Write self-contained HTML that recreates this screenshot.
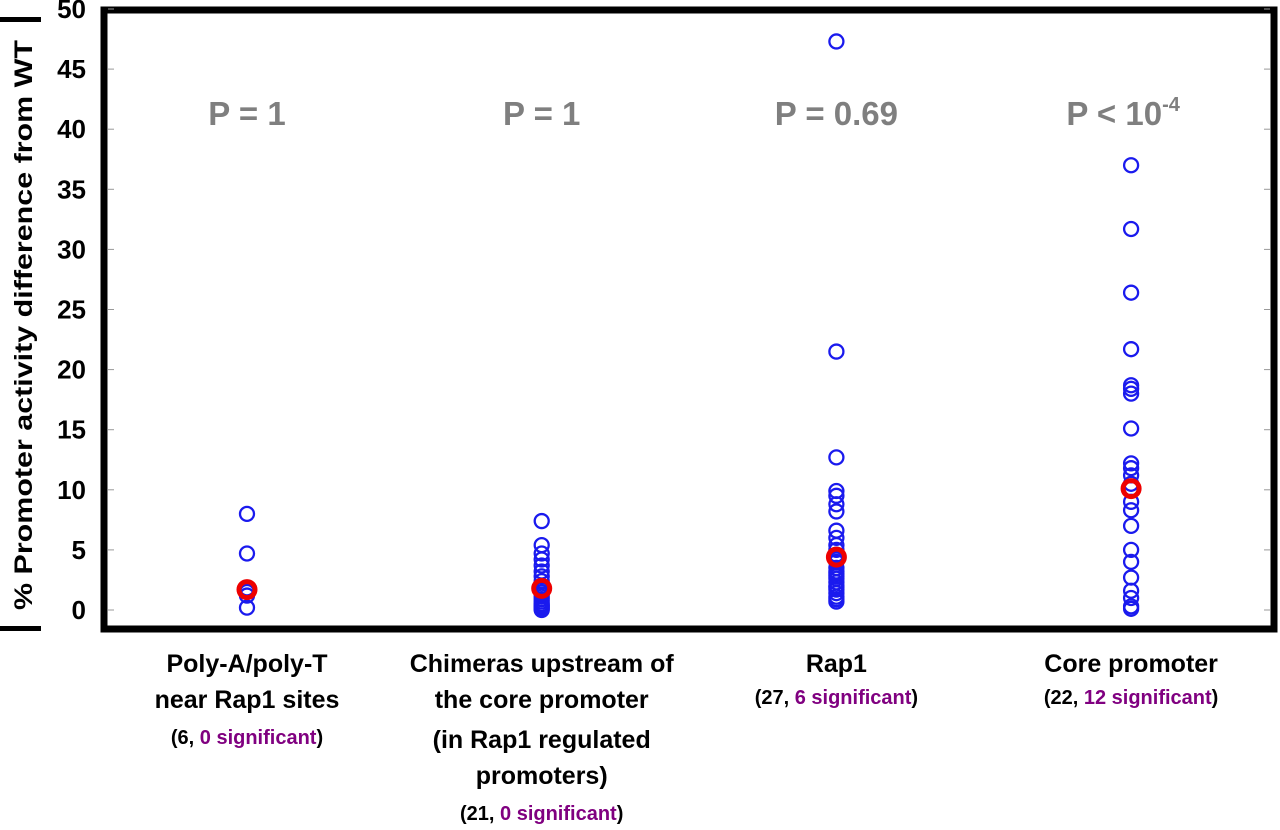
<!DOCTYPE html>
<html><head><meta charset="utf-8"><style>
html,body{margin:0;padding:0;background:#fff;}
svg{display:block;font-family:"Liberation Sans",sans-serif;font-weight:bold;}
</style></head><body>
<svg id="chart" width="1280" height="830">
<g id="ylabel">
<text transform="translate(32,325) rotate(-90)" text-anchor="middle" font-size="25" textLength="570" lengthAdjust="spacingAndGlyphs">% Promoter activity difference from WT</text>
<rect x="0" y="17" width="41" height="5" fill="#000"/>
<rect x="0" y="626" width="41" height="5" fill="#000"/>
</g>
<g id="axes"></g>
<g id="marks"></g>
<g id="labels"></g>
</svg>
<script>
const categories=["Poly-A/poly-T near Rap1 sites","Chimeras upstream","Rap1","Core promoter"];
const polyA=[8.0,4.7,1.8,1.5,1.2,0.2];
const chimeras=[7.4,5.4,4.7,4.2,3.7,3.2,2.8,2.4,2.0,1.7,1.5,1.3,1.1,0.9,0.7,0.5,0.4,0.3,0.2,0.1,0.0];
const rap1=[47.3,21.5,12.7,9.9,9.5,8.8,8.2,6.6,6.0,5.4,5.0,4.6,4.2,4.0,3.5,3.2,3.0,2.8,2.6,2.3,2.0,1.9,1.7,1.4,1.1,0.9,0.7];
const core=[37.0,31.7,26.4,21.7,18.7,18.4,18.0,15.1,12.2,11.8,11.2,10.5,9.0,8.3,7.0,5.0,4.0,2.7,1.6,1.0,0.3,0.1];
const means=[1.7,1.8,4.4,10.1];
const pLabels=["P = 1","P = 1","P = 0.69","P < 10"];
const yTicks=[0,5,10,15,20,25,30,35,40,45,50];
const series=[polyA,chimeras,rap1,core];
const NS="http://www.w3.org/2000/svg";
const y=v=>610-12.02*v;
const x=i=>247+i*294.7;
function mk(tag,attrs,parent){const e=document.createElementNS(NS,tag);for(const k in attrs)e.setAttribute(k,attrs[k]);parent.appendChild(e);return e;}
const axes=document.getElementById('axes'),marks=document.getElementById('marks'),labels=document.getElementById('labels');
const frame=mk('rect',{x:104,y:10,width:1170,height:619,fill:'none',stroke:'#000','stroke-width':7},axes);


yTicks.forEach(t=>{
 const tk=mk('line',{x1:108,x2:114,y1:y(t),y2:y(t),stroke:'#999','stroke-width':1},axes);
 
 
 const rt=mk('line',{x1:1264,x2:1270,y1:y(t),y2:y(t),stroke:'#999','stroke-width':1},axes);
 
 
 const tl=mk('text',{x:86,y:y(t)+9,'text-anchor':'end','font-size':26},axes);
 tl.textContent=t;
 
 
});
series.forEach((s,i)=>{
 s.forEach(v=>{
  const c=mk('circle',{cx:x(i),cy:y(v),r:7,fill:'none',stroke:'#1a1aee','stroke-width':2.3},marks);
  
  
 });
 const m=mk('circle',{cx:x(i),cy:y(means[i]),r:8,fill:'none',stroke:'#ee0000','stroke-width':5},marks);
 
 
 const p=mk('text',{x:x(i)+(i==3?-8:0),y:125,'text-anchor':'middle','font-size':33,fill:'#7f7f7f'},labels);
 p.textContent=pLabels[i];
 
 
 if(i==3){const sp=mk('tspan',{dy:-14,'font-size':20},p);sp.textContent='-4';}
});
const xl=[
 [["Poly-A/poly-T"],["near Rap1 sites"],["(6, ","0 significant",")"]],
 [["Chimeras upstream of"],["the core promoter"],["(in Rap1 regulated"],["promoters)"],["(21, ","0 significant",")"]],
 [["Rap1"],["(27, ","6 significant",")"]],
 [["Core promoter"],["(22, ","12 significant",")"]]
];
const ys=[[672,708,744],[672,708,748,784,820],[672,704],[672,704]];
xl.forEach((lines,i)=>{
 lines.forEach((ln,j)=>{
  const small=ln.length>1;
  const t=mk('text',{x:x(i),y:ys[i][j],'text-anchor':'middle','font-size':small?20:25},labels);
  
  
  ln.forEach((seg,k)=>{const sp=mk('tspan',{fill:k==1?'#800080':'#000'},t);sp.textContent=seg;});
 });
});
</script>
</body></html>
